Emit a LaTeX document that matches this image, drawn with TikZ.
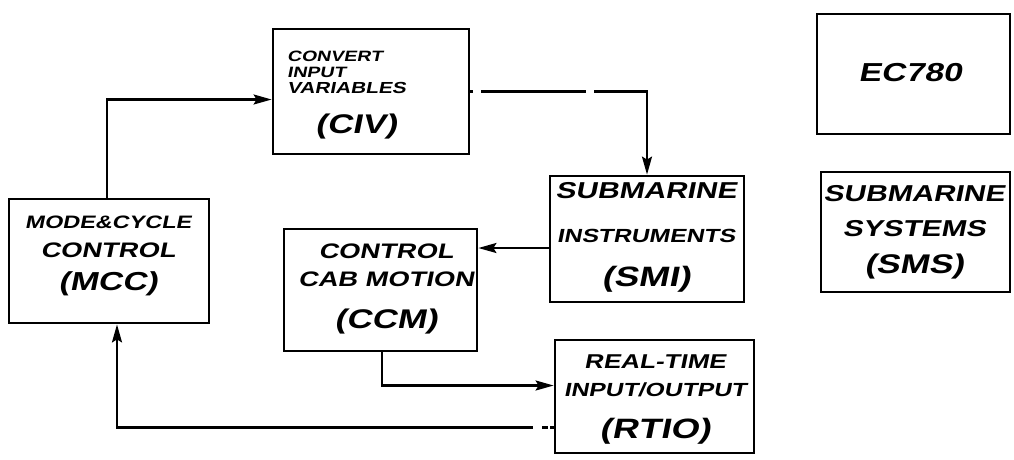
\documentclass[tikz,border=0pt]{standalone}
\usepackage{fontspec}
\newfontfamily\hand{Liberation Sans}[FakeSlant=0.2,FakeStretch=1.3]
\usetikzlibrary{arrows.meta,calc}
\tikzset{
  box/.style={draw, line width=2.8pt, inner sep=0pt},
  lbl/.style={inner sep=0pt, anchor=north, align=center},
  conn/.style={line width=2.2pt},
  arr/.style={-{Stealth[length=18pt,width=10pt,inset=3pt]}},
}
% #1 size, #2 text
\newcommand{\fs}[2]{{\fontsize{#1}{#1}\selectfont #2}}
\newcommand{\hf}[1]{\hand\bfseries\fontsize{20}{#1}\selectfont}
\begin{document}
\begin{tikzpicture}[x=1pt,y=-1pt]
\useasboundingbox (0,0) rectangle (1014,459);
% boxes
\node[box, minimum width=196pt, minimum height=125pt] (civ)  at (371,91.5) {};
\node[box, minimum width=200pt, minimum height=124pt] (mcc)  at (109,261) {};
\node[box, minimum width=193pt, minimum height=122pt] (ccm)  at (380.5,290) {};
\node[box, minimum width=194pt, minimum height=126pt] (smi)  at (647,239) {};
\node[box, minimum width=199pt, minimum height=113pt] (rtio) at (654.5,396.5) {};
\node[box, minimum width=193pt, minimum height=120pt] (ec)   at (913.5,74) {};
\node[box, minimum width=189pt, minimum height=120pt] (sms)  at (915.5,232) {};
% texts
\node[lbl, anchor=north west, align=left, font=\hf{16}] (civT) at (287,51)
  {\fs{15}{CONVERT}\\\fs{15}{INPUT}\\\fs{16}{VARIABLES}\\[19pt]\hspace*{28pt}\fs{27}{(CIV)}};
\node[lbl, font=\hf{29}] (mccT) at (108,216)
  {\fs{18}{MODE\&CYCLE}\\\fs{21}{CONTROL}\\[4pt]\fs{26}{(MCC)}};
\node[lbl, font=\hf{28}] (ccmT) at (386,244)
  {\fs{21}{CONTROL}\\\fs{21}{CAB MOTION}\\[14pt]\fs{27}{(CCM)}};
\node[lbl, font=\hf{44}] (smiT) at (646,182)
  {\fs{23}{SUBMARINE}\\\fs{19}{INSTRUMENTS}\\\fs{28}{(SMI)}};
\node[lbl, font=\hf{28}] (rtioT) at (655,355)
  {\fs{20}{REAL-TIME}\\\fs{19}{INPUT/OUTPUT}\\[14pt]\fs{28}{(RTIO)}};
\node[lbl, font=\hf{20}] (ecT) at (910,63) {\fs{26}{EC780}};
\node[lbl, font=\hf{35}] (smsT) at (914,185)
  {\fs{23}{SUBMARINE}\\\fs{23}{SYSTEMS}\\[2pt]\fs{27}{(SMS)}};
% connectors
\draw[conn, arr] ($(mcc.north)+(-2,0)$) |- ($(civ.west)+(0,8)$);
\draw[conn, arr, dash pattern=on 3pt off 8pt on 105pt off 8pt on 600pt off 0pt] (civ.east) -| (smi.north);
\coordinate (s1) at ($(smi.west)+(0,9)$);
\draw[conn, arr] (s1) -- (s1 -| ccm.east);
\draw[conn, arr] ($(ccm.south)+(1.5,0)$) |- ($(rtio.west)+(0,-11)$);
\draw[conn, arr, dash pattern=on 4pt off 2pt on 6pt off 9pt on 1000pt off 0pt] ($(rtio.west)+(0,31)$) -| ($(mcc.south)+(8,0)$);
\end{tikzpicture}
\end{document}
